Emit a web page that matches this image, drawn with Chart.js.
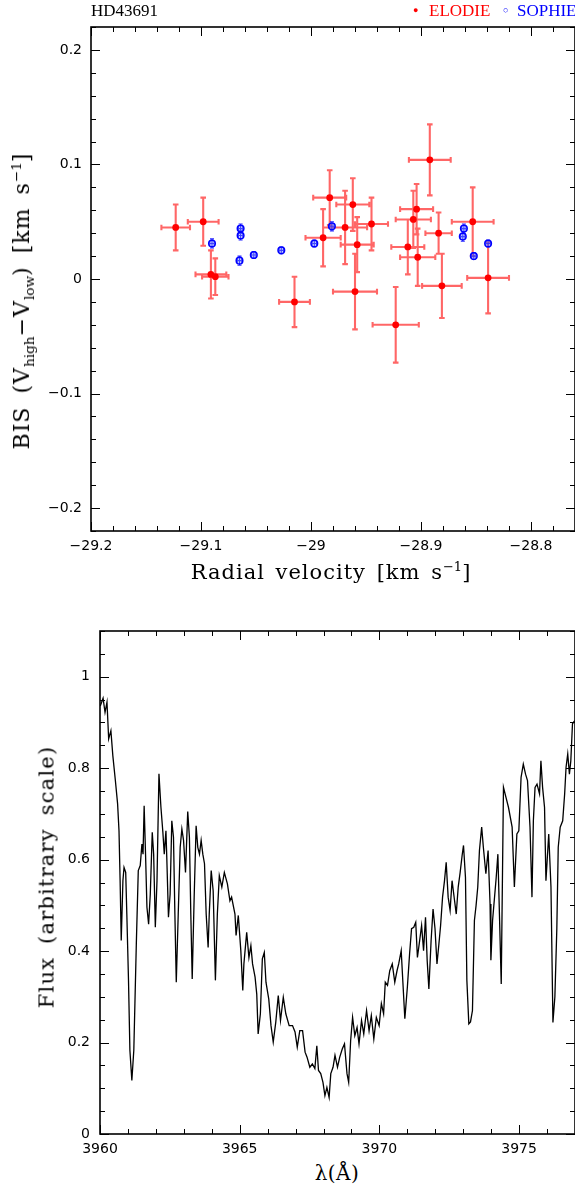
<!DOCTYPE html>
<html>
<head>
<meta charset="utf-8">
<script src="https://cdn.jsdelivr.net/npm/chart.js@4.4.1/dist/chart.umd.min.js"></script>
<style>
  html, body { margin: 0; padding: 0; background: #fff; }
  #page { position: relative; width: 575px; height: 1190px; overflow: hidden; font-family: "DejaVu Serif", serif; color: #000; }
  canvas { position: absolute; left: 0; }
  .lbl { position: absolute; white-space: nowrap; line-height: 1; }
  .rot { transform: translate(-50%, -50%) rotate(-90deg); }
  .ctr { transform: translate(-50%, -50%); }
  .leg { font-family: "Liberation Serif", serif; font-size: 17px; top: 2px; }
  sub, sup { font-size: 62%; line-height: 0; letter-spacing: 0; }
</style>
</head>
<body>
<div id="page">
  <canvas id="bisChart" width="575" height="565" style="top:0"></canvas>
  <canvas id="specChart" width="575" height="560" style="top:600px"></canvas>

  <div class="lbl leg" style="left:91px;">HD43691</div>
  <div class="lbl leg" style="left:413px; top:6px; font-size:9px; color:#ff0000;">●</div>
  <div class="lbl leg" style="left:429px; color:#ff0000;">ELODIE</div>
  <div class="lbl leg" style="left:503px; top:6px; font-size:9px; color:#0000ff;">○</div>
  <div class="lbl leg" style="left:517px; color:#0000ff;">SOPHIE</div>

  <div class="lbl rot" style="left:22px; top:301px; font-size:22px; letter-spacing:1px; word-spacing:5px;">BIS (V<sub>high</sub>&minus;V<sub>low</sub>) [km s<sup>&minus;1</sup>]</div>
  <div class="lbl ctr" style="left:331px; top:572px; font-size:21px; letter-spacing:1px; word-spacing:3px;">Radial velocity [km s<sup>&minus;1</sup>]</div>

  <div class="lbl rot" style="left:47px; top:877px; font-size:21px; letter-spacing:1.2px; word-spacing:5px;">Flux (arbitrary scale)</div>
  <div class="lbl ctr" style="left:337px; top:1173px; font-size:20px; letter-spacing:0.5px;">&lambda;(&Aring;)</div>
</div>

<script>
// ---------------- BIS vs RV data ----------------
const elodieRV = [-29.123, -29.098, -29.091, -29.087, -29.015, -28.983, -28.989, -28.969, -28.962, -28.958, -28.945,
  -28.960, -28.923, -28.912, -28.907, -28.904, -28.903, -28.892, -28.884, -28.881, -28.853, -28.839];
const elodieBIS = [0.045, 0.050, 0.004, 0.002, -0.020, 0.071, 0.036, 0.045, 0.065, 0.030, 0.048,
  -0.011, -0.040, 0.028, 0.052, 0.061, 0.019, 0.104, 0.040, -0.006, 0.050, 0.001];
const elodieRVErr = [0.013, 0.014, 0.014, 0.012, 0.014, 0.015, 0.016, 0.020, 0.015, 0.015, 0.015,
  0.020, 0.021, 0.015, 0.016, 0.015, 0.016, 0.019, 0.012, 0.018, 0.019, 0.019];
const elodieBISErr = [0.020, 0.021, 0.021, 0.016, 0.022, 0.024, 0.025, 0.032, 0.023, 0.024, 0.023,
  0.033, 0.033, 0.024, 0.025, 0.022, 0.025, 0.031, 0.018, 0.028, 0.030, 0.031];

const sophieRV = [-29.090, -29.064, -29.064, -29.065, -29.052, -29.027, -28.997, -28.981, -28.861, -28.862, -28.852, -28.839];
const sophieBIS = [0.031, 0.044, 0.038, 0.016, 0.021, 0.025, 0.031, 0.046, 0.044, 0.037, 0.020, 0.031];
const sophieRVErr = [0.002, 0.002, 0.002, 0.002, 0.002, 0.002, 0.002, 0.002, 0.002, 0.002, 0.002, 0.002];
const sophieBISErr = [0.004, 0.004, 0.004, 0.004, 0.003, 0.003, 0.003, 0.004, 0.004, 0.004, 0.003, 0.003];

const rvMajorTicks = [-29.2, -29.1, -29, -28.9, -28.8];
const bisMajorTicks = [-0.2, -0.1, 0, 0.1, 0.2];

// ---------------- spectrum data ----------------
const specWave = [
  3960.01, 3960.11, 3960.18, 3960.25, 3960.31, 3960.39, 3960.46, 3960.55, 3960.63, 3960.68,
  3960.72, 3960.76, 3960.82, 3960.86, 3960.92, 3960.96, 3961.02, 3961.07, 3961.14, 3961.21,
  3961.30, 3961.37, 3961.44, 3961.50, 3961.54, 3961.58, 3961.63, 3961.68, 3961.74, 3961.80,
  3961.87, 3961.92, 3961.98, 3962.04, 3962.11, 3962.18, 3962.25, 3962.30, 3962.36, 3962.39,
  3962.45, 3962.51, 3962.57, 3962.63, 3962.68, 3962.73, 3962.80, 3962.87, 3962.93, 3962.99,
  3963.06, 3963.14, 3963.20, 3963.25, 3963.30, 3963.37, 3963.44, 3963.50, 3963.56, 3963.62,
  3963.68, 3963.74, 3963.80, 3963.87, 3963.91, 3963.98, 3964.05, 3964.13, 3964.20, 3964.27,
  3964.36, 3964.45, 3964.56, 3964.65, 3964.71, 3964.83, 3964.87, 3964.95, 3965.04, 3965.11,
  3965.15, 3965.25, 3965.33, 3965.40, 3965.46, 3965.55, 3965.61, 3965.66, 3965.74, 3965.81,
  3965.88, 3965.94, 3966.04, 3966.12, 3966.20, 3966.29, 3966.38, 3966.46, 3966.56, 3966.65,
  3966.77, 3966.89, 3966.98, 3967.06, 3967.15, 3967.25, 3967.34, 3967.41, 3967.51, 3967.60,
  3967.69, 3967.76, 3967.82, 3967.90, 3967.98, 3968.05, 3968.12, 3968.20, 3968.26, 3968.34,
  3968.41, 3968.50, 3968.58, 3968.67, 3968.75, 3968.84, 3968.90, 3968.97, 3969.04, 3969.12,
  3969.20, 3969.27, 3969.36, 3969.44, 3969.54, 3969.63, 3969.71, 3969.80, 3969.89, 3969.99,
  3970.07, 3970.15, 3970.21, 3970.29, 3970.37, 3970.46, 3970.55, 3970.63, 3970.69, 3970.78,
  3970.84, 3970.91, 3971.00, 3971.08, 3971.15, 3971.23, 3971.30, 3971.36, 3971.44, 3971.51,
  3971.58, 3971.65, 3971.71, 3971.77, 3971.85, 3971.92, 3971.99, 3972.06, 3972.13, 3972.19,
  3972.26, 3972.33, 3972.39, 3972.46, 3972.53, 3972.60, 3972.69, 3972.75, 3972.82, 3972.89,
  3972.96, 3973.01, 3973.08, 3973.13, 3973.20, 3973.26, 3973.33, 3973.40, 3973.46, 3973.52,
  3973.58, 3973.66, 3973.72, 3973.81, 3973.89, 3973.96, 3973.99, 3974.05, 3974.18, 3974.24,
  3974.30, 3974.36, 3974.44, 3974.53, 3974.62, 3974.75, 3974.83, 3974.92, 3974.99, 3975.07,
  3975.15, 3975.23, 3975.30, 3975.39, 3975.46, 3975.51, 3975.57, 3975.64, 3975.73, 3975.78,
  3975.84, 3975.91, 3975.96, 3976.06, 3976.14, 3976.21, 3976.28, 3976.35, 3976.40, 3976.47,
  3976.56, 3976.63, 3976.68, 3976.74, 3976.80, 3976.85, 3976.91, 3976.99
];
const specFlux = [
  0.936, 0.953, 0.922, 0.944, 0.864, 0.882, 0.827, 0.773, 0.722, 0.663,
  0.554, 0.423, 0.554, 0.583, 0.572, 0.481, 0.336, 0.183, 0.117, 0.183,
  0.416, 0.576, 0.587, 0.634, 0.612, 0.718, 0.612, 0.496, 0.459, 0.525,
  0.660, 0.612, 0.452, 0.554, 0.788, 0.715, 0.660, 0.612, 0.663, 0.605,
  0.474, 0.525, 0.685, 0.649, 0.481, 0.332, 0.481, 0.627, 0.667, 0.642,
  0.572, 0.705, 0.649, 0.481, 0.339, 0.518, 0.674, 0.627, 0.612, 0.642,
  0.612, 0.591, 0.481, 0.408, 0.481, 0.576, 0.532, 0.336, 0.481, 0.565,
  0.540, 0.572, 0.547, 0.510, 0.518, 0.481, 0.434, 0.478, 0.401, 0.314,
  0.372, 0.441, 0.386, 0.412, 0.372, 0.343, 0.306, 0.219, 0.263, 0.383,
  0.397, 0.332, 0.295, 0.237, 0.201, 0.244, 0.303, 0.248, 0.299, 0.263,
  0.237, 0.237, 0.223, 0.190, 0.226, 0.226, 0.179, 0.168, 0.146, 0.153,
  0.143, 0.193, 0.139, 0.132, 0.113, 0.084, 0.102, 0.080, 0.132, 0.146,
  0.172, 0.146, 0.168, 0.186, 0.197, 0.132, 0.113, 0.204, 0.255, 0.215,
  0.233, 0.197, 0.248, 0.219, 0.270, 0.226, 0.259, 0.208, 0.255, 0.237,
  0.285, 0.263, 0.332, 0.325, 0.357, 0.372, 0.332, 0.357, 0.372, 0.401,
  0.332, 0.252, 0.321, 0.394, 0.449, 0.452, 0.463, 0.386, 0.423, 0.456,
  0.401, 0.474, 0.379, 0.317, 0.423, 0.492, 0.449, 0.372, 0.416, 0.456,
  0.518, 0.554, 0.594, 0.518, 0.489, 0.554, 0.510, 0.481, 0.540, 0.572,
  0.609, 0.631, 0.561, 0.336, 0.241, 0.245, 0.270, 0.467, 0.500, 0.540,
  0.620, 0.671, 0.627, 0.569, 0.620, 0.503, 0.380, 0.467, 0.561, 0.612,
  0.470, 0.328, 0.758, 0.736, 0.714, 0.671, 0.540, 0.656, 0.663, 0.780,
  0.809, 0.787, 0.773, 0.671, 0.518, 0.685, 0.758, 0.765, 0.744, 0.816,
  0.758, 0.714, 0.554, 0.656, 0.540, 0.244, 0.300, 0.450, 0.627, 0.671,
  0.685, 0.744, 0.802, 0.831, 0.787, 0.816, 0.897, 0.904
];

const waveMajorTicks = [3960, 3965, 3970, 3975];
const fluxMajorTicks = [0, 0.2, 0.4, 0.6, 0.8, 1];

// ---------------- helpers ----------------
function isMajor(v, list) {
  return list.some(m => Math.abs(m - v) < 1e-6);
}

function fmt(v) {
  let s = String(Math.round(v * 10) / 10);
  return s.replace('-', '\u2212');
}

// fix the axis box sizes and drop the label padding Chart.js adds at the ends
function fixX(h) {
  return s => { s.height = h; s.paddingLeft = 0; s.paddingRight = 0; };
}
function fixY(w) {
  return s => { s.width = w; s.paddingTop = 0; s.paddingBottom = 0; };
}

// inward ticks on all four sides + box
const frameTicks = {
  id: 'frameTicks',
  afterDraw(chart, args, opts) {
    const ctx = chart.ctx;
    const a = chart.chartArea;
    const x = chart.scales.x, y = chart.scales.y;
    ctx.save();
    ctx.strokeStyle = '#000';
    ctx.lineWidth = 1;
    ctx.beginPath();
    x.ticks.forEach(t => {
      const px = Math.round(x.getPixelForValue(t.value)) + 0.5;
      const len = isMajor(t.value, opts.xMajor) ? 9 : 5;
      ctx.moveTo(px, a.bottom); ctx.lineTo(px, a.bottom - len);
      ctx.moveTo(px, a.top); ctx.lineTo(px, a.top + len);
    });
    y.ticks.forEach(t => {
      const py = Math.round(y.getPixelForValue(t.value)) + 0.5;
      const len = isMajor(t.value, opts.yMajor) ? 9 : 5;
      ctx.moveTo(a.left, py); ctx.lineTo(a.left + len, py);
      ctx.moveTo(a.right, py); ctx.lineTo(a.right - len, py);
    });
    ctx.stroke();
    ctx.lineWidth = 1.6;
    ctx.strokeRect(a.left, a.top, a.right - a.left, a.bottom - a.top);
    ctx.restore();
  }
};

// error bars with small caps, drawn under the points
const errorBars = {
  id: 'errorBars',
  beforeDatasetsDraw(chart) {
    const ctx = chart.ctx;
    const x = chart.scales.x, y = chart.scales.y;
    chart.data.datasets.forEach(ds => {
      if (!ds.errX) return;
      ctx.save();
      ctx.strokeStyle = ds.errColor;
      ctx.lineWidth = ds.errWidth;
      ctx.beginPath();
      ds.data.forEach((p, i) => {
        const px = x.getPixelForValue(p.x), py = y.getPixelForValue(p.y);
        const xl = x.getPixelForValue(p.x - ds.errX[i]), xr = x.getPixelForValue(p.x + ds.errX[i]);
        const yt = y.getPixelForValue(p.y + ds.errY[i]), yb = y.getPixelForValue(p.y - ds.errY[i]);
        const c = ds.capSize;
        ctx.moveTo(xl, py); ctx.lineTo(xr, py);
        ctx.moveTo(px, yt); ctx.lineTo(px, yb);
        ctx.moveTo(xl, py - c); ctx.lineTo(xl, py + c);
        ctx.moveTo(xr, py - c); ctx.lineTo(xr, py + c);
        ctx.moveTo(px - c, yt); ctx.lineTo(px + c, yt);
        ctx.moveTo(px - c, yb); ctx.lineTo(px + c, yb);
      });
      ctx.stroke();
      ctx.restore();
    });
  }
};

const tickFont = { family: 'DejaVu Sans', size: 14 };

// ---------------- top chart ----------------
new Chart(document.getElementById('bisChart'), {
  type: 'scatter',
  data: {
    datasets: [
      {
        label: 'ELODIE',
        data: elodieRV.map((v, i) => ({ x: v, y: elodieBIS[i] })),
        errX: elodieRVErr, errY: elodieBISErr,
        errColor: 'rgba(255,0,0,0.6)', errWidth: 2.1, capSize: 2.8,
        pointRadius: 3.4, pointBackgroundColor: '#ff0000', pointBorderWidth: 0,
        order: 2
      },
      {
        label: 'SOPHIE',
        data: sophieRV.map((v, i) => ({ x: v, y: sophieBIS[i] })),
        errX: sophieRVErr, errY: sophieBISErr,
        errColor: 'rgba(0,0,255,0.85)', errWidth: 1.1, capSize: 2,
        pointRadius: 3.3, pointBackgroundColor: 'rgba(110,130,255,0.35)', pointBorderColor: '#0000ff', pointBorderWidth: 1.5,
        order: 1
      }
    ]
  },
  options: {
    responsive: false,
    animation: false,
    events: [],
    layout: { autoPadding: false, padding: { top: 27, left: 0, right: 0, bottom: 0 } },
    plugins: {
      legend: { display: false },
      tooltip: { enabled: false },
      frameTicks: { xMajor: rvMajorTicks, yMajor: bisMajorTicks }
    },
    scales: {
      x: {
        type: 'linear', min: -29.2, max: -28.76,
        grid: { display: false, drawTicks: false },
        border: { display: false },
        afterFit: fixX(34),
        ticks: {
          stepSize: 0.02, autoSkip: false, maxRotation: 0, padding: 7,
          color: '#000', font: tickFont,
          callback: v => isMajor(v, rvMajorTicks) ? fmt(v) : ''
        }
      },
      y: {
        type: 'linear', min: -0.22, max: 0.22,
        grid: { display: false, drawTicks: false },
        border: { display: false },
        afterFit: fixY(91),
        ticks: {
          stepSize: 0.02, autoSkip: false, padding: 9,
          color: '#000', font: tickFont,
          callback: v => isMajor(v, bisMajorTicks) ? fmt(v) : ''
        }
      }
    }
  },
  plugins: [errorBars, frameTicks]
});

// ---------------- bottom chart ----------------
new Chart(document.getElementById('specChart'), {
  type: 'line',
  data: {
    datasets: [{
      data: specWave.map((w, i) => ({ x: w, y: specFlux[i] })),
      borderColor: '#000', borderWidth: 1.3, pointRadius: 0, tension: 0, fill: false
    }]
  },
  options: {
    responsive: false,
    animation: false,
    events: [],
    layout: { autoPadding: false, padding: { top: 31, left: 0, right: 0, bottom: 0 } },
    plugins: {
      legend: { display: false },
      tooltip: { enabled: false },
      frameTicks: { xMajor: waveMajorTicks, yMajor: fluxMajorTicks }
    },
    scales: {
      x: {
        type: 'linear', min: 3960, max: 3977,
        grid: { display: false, drawTicks: false },
        border: { display: false },
        afterFit: fixX(26),
        ticks: {
          stepSize: 1, autoSkip: false, maxRotation: 0, padding: 7,
          color: '#000', font: tickFont,
          callback: v => isMajor(v, waveMajorTicks) ? String(v) : ''
        }
      },
      y: {
        type: 'linear', min: 0, max: 1.1,
        grid: { display: false, drawTicks: false },
        border: { display: false },
        afterFit: fixY(100),
        ticks: {
          stepSize: 0.05, autoSkip: false, padding: 10,
          color: '#000', font: tickFont,
          callback: v => isMajor(v, fluxMajorTicks) ? fmt(v) : ''
        }
      }
    }
  },
  plugins: [frameTicks]
});
</script>
</body>
</html>
